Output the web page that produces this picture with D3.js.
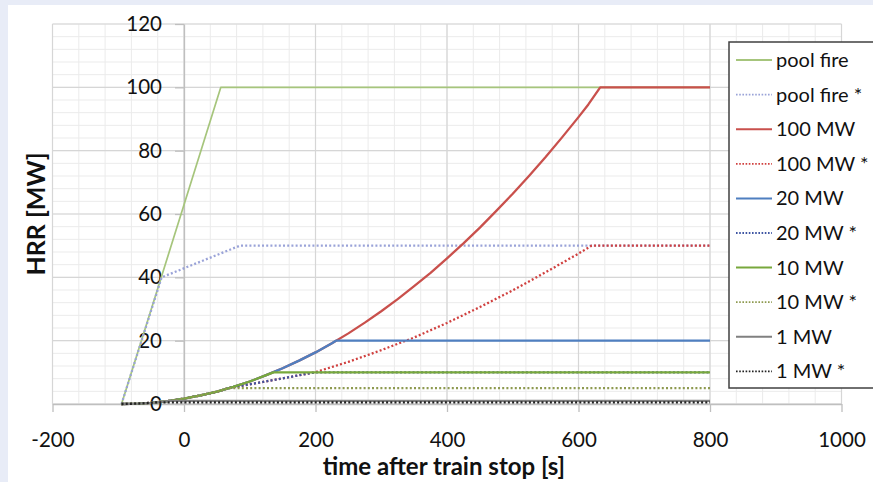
<!DOCTYPE html>
<html>
<head>
<meta charset="utf-8">
<script src="https://cdn.jsdelivr.net/npm/d3@7/dist/d3.min.js"></script>
<style>
  html, body { margin: 0; padding: 0; background: #e8ecf7; }
  svg { display: block; font-family: Lato, "Open Sans", sans-serif; }
</style>
</head>
<body>
<svg id="chart" width="873" height="482"></svg>
<script>
// ---- data (time after train stop [s], HRR [MW]) ----
const xTicks = [-200, 0, 200, 400, 600, 800, 1000];
const yTicks = [0, 20, 40, 60, 80, 100, 120];

const poolFire     = [[-95,0],[56,100],[800,100]];
const poolFireStar = [[-95,0],[-34,40],[85,50],[800,50]];

const mw100 = [[-95,0],[-70,0.12],[-50,0.38],[-25,0.92],[0,1.7],[25,2.7],[50,3.9],[75,5.4],[100,7.1],[125,9.1],[150,11.3],[175,13.7],[200,16.3],[225,19.2],[250,22.3],[275,25.7],[300,29.3],[325,33.1],[350,37.2],[375,41.4],[400,46.0],[425,50.7],[450,55.7],[475,61.0],[500,66.4],[525,72.1],[550,78.0],[575,84.2],[600,90.6],[615,94.6],[633,100],[800,100]];
const mw100Star = [[-95,0],[-70,0.12],[-50,0.38],[-25,0.92],[0,1.7],[25,2.7],[50,3.9],[68,5],[100,6.2],[150,8.1],[199,10],[250,13.3],[300,17.0],[350,21.0],[400,25.6],[450,30.6],[500,35.9],[550,41.6],[600,47.5],[620,50],[800,50]];
const mw20 = [[-95,0],[-70,0.12],[-50,0.38],[-25,0.92],[0,1.7],[25,2.7],[50,3.9],[75,5.4],[100,7.1],[125,9.1],[150,11.3],[175,13.7],[200,16.3],[225,19.2],[231,20],[800,20]];
const mw20Star = [[-95,0],[-70,0.12],[-50,0.38],[-25,0.92],[0,1.7],[25,2.7],[50,3.9],[68,5],[100,6.2],[150,8.1],[199,10],[800,10]];
const mw10 = [[-95,0],[-70,0.12],[-50,0.38],[-25,0.92],[0,1.7],[25,2.7],[50,3.9],[75,5.4],[100,7.1],[125,9.1],[136,10],[800,10]];
const mw10Star = [[-95,0],[-70,0.12],[-50,0.38],[-25,0.92],[0,1.7],[25,2.7],[50,3.9],[68,5],[800,5]];
const mw1 = [[-95,0],[-70,0.12],[-50,0.38],[-35,0.68],[-22,1],[800,1]];
const mw1Star = [[-95,0],[-70,0.12],[-43,0.5],[800,0.5]];

const seriesNames = ["pool fire","pool fire *","100 MW","100 MW *","20 MW","20 MW *","10 MW","10 MW *","1 MW","1 MW *"];
const seriesData  = [poolFire, poolFireStar, mw100, mw100Star, mw20, mw20Star, mw10, mw10Star, mw1, mw1Star];
const seriesColor = ["#a6c57c","#9aa3d8","#c9504c","#d0403f","#4f7fc0","#3f56a3","#78a83c","#8e9a50","#808080","#222222"];
const seriesDotted = [false,true,false,true,false,true,false,true,false,true];

// ---- chart ----
const svg = d3.select("#chart");
svg.append("rect").attr("x",0).attr("y",0).attr("width",873).attr("height",482).attr("fill","#e8ecf7");
svg.append("rect").attr("x",8).attr("y",5).attr("width",865).attr("height",477).attr("fill","#ffffff");

const x = d3.scaleLinear().domain([-200,1000]).range([52.5,841.5]);
const y = d3.scaleLinear().domain([0,120]).range([404,24]);

// minor grid
const g = svg.append("g");
g.selectAll("line.mx").data(d3.range(-200,1001,40)).join("line")
  .attr("x1",d=>x(d)).attr("x2",d=>x(d)).attr("y1",y(0)).attr("y2",y(120))
  .attr("stroke","#ebebeb").attr("stroke-width",1);
g.selectAll("line.my").data(d3.range(0,121,4)).join("line")
  .attr("y1",d=>y(d)).attr("y2",d=>y(d)).attr("x1",x(-200)).attr("x2",x(1000))
  .attr("stroke","#ebebeb").attr("stroke-width",1);
// major grid
g.selectAll("line.Mx").data(xTicks).join("line")
  .attr("x1",d=>x(d)).attr("x2",d=>x(d)).attr("y1",y(0)).attr("y2",y(120))
  .attr("stroke","#d6d6d6").attr("stroke-width",1.2);
g.selectAll("line.My").data(yTicks).join("line")
  .attr("y1",d=>y(d)).attr("y2",d=>y(d)).attr("x1",x(-200)).attr("x2",x(1000))
  .attr("stroke","#d6d6d6").attr("stroke-width",1.2);

// axes
const xAxis = svg.append("g").attr("transform",`translate(0,${y(0)})`)
  .call(d3.axisBottom(x).tickValues(xTicks).tickSize(8).tickSizeOuter(0).tickPadding(20).tickFormat(d=>String(d)));
const yAxis = svg.append("g").attr("transform",`translate(${x(0)},0)`)
  .call(d3.axisLeft(y).tickValues(yTicks).tickSize(9).tickSizeOuter(0).tickPadding(13).tickFormat(d=>String(d)));
[xAxis,yAxis].forEach(a=>{
  a.select(".domain").attr("stroke","#bfbfbf").attr("stroke-width",1.3);
  a.selectAll(".tick line").attr("stroke","#bfbfbf").attr("stroke-width",1.3);
  a.selectAll(".tick text").attr("fill","#111111").style("font-size","20.5px").style("font-family","Lato, sans-serif");
});
xAxis.selectAll(".tick text").attr("dy","0.71em");

// series
const line = d3.line().x(d=>x(d[0])).y(d=>y(d[1]));
seriesData.forEach((data,i)=>{
  svg.append("path").datum(data).attr("d",line)
    .attr("fill","none").attr("stroke",seriesColor[i])
    .attr("stroke-width", seriesDotted[i] ? 2.3 : (i===0 ? 1.7 : 2.3))
    .attr("stroke-dasharray", seriesDotted[i] ? "2,2.2" : null)
    .attr("stroke-linejoin","round");
});

// axis titles
svg.append("text").attr("x",444).attr("y",475).attr("text-anchor","middle")
  .style("font-size","24px").style("font-weight","bold").attr("fill","#111111")
  .text("time after train stop [s]");
svg.append("text").attr("transform","translate(45,214) rotate(-90)").attr("text-anchor","middle")
  .style("font-size","25px").style("font-weight","bold").attr("fill","#111111")
  .text("HRR [MW]");

// legend
const lg = svg.append("g");
lg.append("rect").attr("x",729).attr("y",42).attr("width",170).attr("height",346)
  .attr("fill","#ffffff").attr("stroke","#404040").attr("stroke-width",1.5);
seriesNames.forEach((name,i)=>{
  const cy = 60 + i*34.6;
  lg.append("line").attr("x1",736).attr("x2",772).attr("y1",cy).attr("y2",cy)
    .attr("stroke",seriesColor[i]).attr("stroke-width", seriesDotted[i] ? 1.8 : 2)
    .attr("stroke-dasharray", seriesDotted[i] ? "1.6,1.6" : null);
  lg.append("text").attr("x",776).attr("y",cy).attr("dy","0.35em")
    .style("font-size","20px").attr("fill","#111111").text(name);
});
</script>
</body>
</html>
